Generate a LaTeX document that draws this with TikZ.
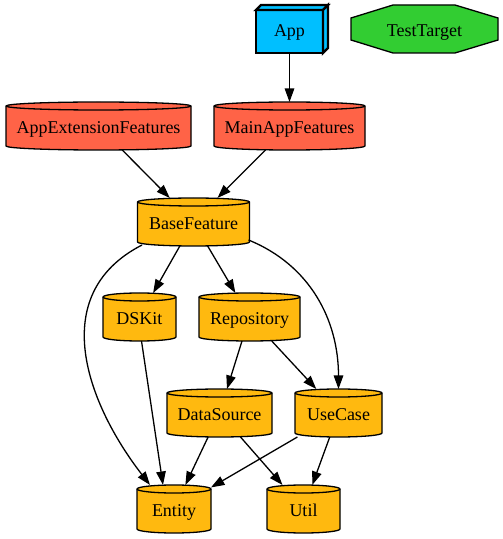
\documentclass[tikz,border=0pt]{standalone}
\usepackage{fontspec}
\setmainfont{Liberation Serif}
\usetikzlibrary{arrows.meta}
\definecolor{cylorange}{HTML}{FFB90F}
\definecolor{tomatored}{HTML}{FF6347}
\definecolor{appblue}{HTML}{00BFFF}
\definecolor{ttgreen}{HTML}{32CD32}
\tikzset{
  labelfont/.style={font=\fontsize{18pt}{21pt}\selectfont, text height=14.5pt, text depth=0pt},
  cylbox/.style={rectangle, draw=none, minimum height=48pt, inner sep=0pt, outer sep=0pt, labelfont},
  cylline/.style={line width=1.3pt, draw=black},
  appnode/.style={rectangle, draw=black, fill=appblue, line width=2.4pt, minimum width=67pt, minimum height=43pt, inner sep=0pt, outer sep=0pt, labelfont, text height=9.5pt},
  ttnode/.style={rectangle, draw=none, minimum width=147pt, minimum height=48pt, inner sep=0pt, outer sep=0pt, labelfont},
  link/.style={-{Triangle[length=13.5pt,width=9.5pt]}, line width=1.3pt},
}
\newcommand\cylnode[6]{%
  \filldraw[fill=#5, cylline] ({#2-0.5*#4},{#3+20}) -- ({#2-0.5*#4},{#3-20})
    arc[start angle=180, end angle=360, x radius={0.5*#4pt}, y radius=4pt]
    -- ({#2+0.5*#4},{#3+20})
    arc[start angle=0, end angle=180, x radius={0.5*#4pt}, y radius=4pt] -- cycle;
  \draw[cylline] ({#2-0.5*#4},{#3+20}) arc[start angle=180, end angle=360, x radius={0.5*#4pt}, y radius=4pt];
  \node[cylbox, minimum width=#4pt] (#1) at (#2,#3) {#6};
}
\begin{document}
\begin{tikzpicture}[x=1pt, y=1pt]
\useasboundingbox (0,0) rectangle (503,539);

% App (box3d)
\node[appnode] (App) at (289.5,507.5) {App};
\filldraw[fill=appblue, line width=2.4pt, line join=miter] (App.north west) -- ++(5,5) -- ([shift={(5,5)}]App.north east) -- (App.north east) -- cycle;
\filldraw[fill=appblue, line width=2.4pt, line join=miter] (App.north east) -- ++(5,5) -- ([shift={(5,5)}]App.south east) -- (App.south east) -- cycle;

% TestTarget (octagon)
\filldraw[fill=ttgreen, line width=1.3pt] (393,534) -- (455,534) -- (498,521) -- (498,499) -- (455,486) -- (393,486) -- (351,499) -- (351,521) -- cycle;
\node[ttnode] (TT) at (424.5,510) {TestTarget};

% Cylinders
\cylnode{AEF}{98.5}{413}{185}{tomatored}{AppExtensionFeatures}
\cylnode{MAF}{289.5}{413}{151}{tomatored}{MainAppFeatures}
\cylnode{BF}{193.5}{317}{112}{cylorange}{BaseFeature}
\cylnode{DSKit}{139.5}{222}{73}{cylorange}{DSKit}
\cylnode{Repo}{249.5}{222}{101}{cylorange}{Repository}
\cylnode{DS}{219.5}{126}{105}{cylorange}{DataSource}
\cylnode{UC}{338.5}{126}{87}{cylorange}{UseCase}
\cylnode{Entity}{174}{30}{74}{cylorange}{Entity}
\cylnode{Util}{303.5}{30}{73}{cylorange}{Util}

% Edges
\draw[link] (App) -- (MAF);
\draw[link] (AEF) -- (BF);
\draw[link] (MAF) -- (BF);
\draw[link] (BF) -- (DSKit);
\draw[link] (BF) -- (Repo);
\draw[link] ([shift={(-1,6)}]BF.south east) .. controls +(61.5,-25) and +(0,69) .. (UC.north);
\draw[link] ([shift={(4.5,1)}]BF.south west) .. controls +(-97,-50) and +(-62,80) .. ([xshift=13]Entity.north west);
\draw[link] ([xshift=2]DSKit.south) -- ([xshift=-11]Entity.north);
\draw[link] (Repo) -- (DS);
\draw[link] (Repo) -- (UC);
\draw[link] (DS) -- (Entity);
\draw[link] (DS) -- (Util);
\draw[link] (UC) -- (Entity);
\draw[link] (UC) -- (Util);
\end{tikzpicture}
\end{document}
